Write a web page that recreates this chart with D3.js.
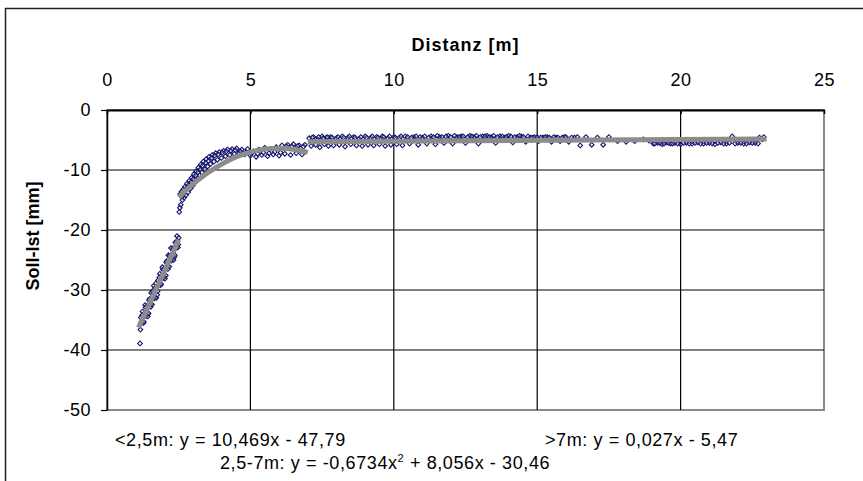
<!DOCTYPE html>
<html>
<head>
<meta charset="utf-8">
<script src="https://cdn.jsdelivr.net/npm/d3@7"></script>
<style>
  body { margin: 0; background: #fff; }
  text { font-family: Arial, "Liberation Sans", sans-serif; fill: #000; }
</style>
</head>
<body>
<div id="chart"></div>
<script>
const nearPoints = [
  [1.15,-38.9],[1.165,-36.6],[1.18,-34.6],[1.21,-35.5],[1.225,-34.2],[1.24,-33.6],[1.27,-35.5],
  [1.285,-35.3],[1.30,-33.9],[1.33,-32.5],[1.345,-32.9],[1.36,-34.3],[1.39,-32.7],[1.405,-33.9],
  [1.42,-34.4],[1.45,-33.9],[1.465,-31.7],[1.48,-31.5],[1.51,-32.4],[1.525,-32.8],[1.54,-30.5],
  [1.57,-32.4],[1.585,-30.2],[1.60,-30.7],[1.63,-29.3],[1.645,-31.4],[1.66,-31.1],[1.69,-29.6],
  [1.705,-28.9],[1.72,-31.3],[1.75,-30.8],[1.765,-30.2],[1.78,-28.4],[1.81,-29.2],[1.825,-27.9],
  [1.84,-27.3],[1.87,-29.2],[1.885,-29.0],[1.90,-27.6],[1.93,-26.2],[1.945,-26.6],[1.96,-28.0],
  [1.99,-26.5],[2.005,-27.8],[2.02,-28.1],[2.05,-27.6],[2.065,-25.4],[2.08,-25.2],[2.11,-26.1],
  [2.125,-26.5],[2.14,-24.2],[2.17,-26.1],[2.185,-24.3],[2.20,-24.5],[2.23,-23.0],[2.245,-25.1],
  [2.26,-24.8],[2.29,-23.3],[2.305,-23.0],[2.32,-25.0],[2.35,-24.5],[2.365,-24.2],[2.38,-22.1],
  [2.41,-23.0],[2.425,-21.9],[2.44,-21.0],[2.47,-22.9],[2.485,-22.4],[2.50,-21.3]
];
const midPoints = [
  [2.52,-17.0],[2.55,-14.0],[2.57,-15.8],[2.6,-13.6],[2.63,-15.0],[2.66,-13.2],[2.69,-14.6],
  [2.72,-12.8],[2.75,-14.2],[2.79,-12.3],[2.83,-13.7],[2.87,-11.8],[2.91,-13.1],[2.95,-11.3],
  [2.99,-12.6],[3.03,-10.7],[3.07,-12.0],[3.11,-10.2],[3.15,-11.4],[3.19,-9.6],[3.23,-10.9],
  [3.27,-9.1],[3.31,-10.4],[3.36,-8.6],[3.41,-9.9],[3.46,-8.2],[3.51,-9.4],[3.56,-7.8],
  [3.61,-9.0],[3.67,-7.5],[3.73,-8.6],[3.79,-7.2],[3.85,-8.3],[3.92,-7.0],[3.99,-8.0],
  [4.06,-6.8],[4.13,-7.7],[4.2,-6.6],[4.28,-7.5],[4.36,-6.5],[4.44,-7.3],[4.52,-6.4],
  [4.6,-7.2],[4.7,-6.6],[4.8,-7.4],[4.9,-6.5],[5.0,-7.6],[5.1,-6.9],[5.2,-7.8],[5.3,-6.6],
  [5.4,-7.5],[5.5,-6.3],[5.6,-7.7],[5.7,-6.5],[5.8,-7.4],[5.9,-6.2],[6.0,-7.6],[6.1,-5.9],
  [6.2,-7.3],[6.3,-5.8],[6.4,-7.5],[6.5,-5.7],[6.6,-7.2],[6.7,-5.9],[6.8,-7.4],[6.9,-5.8],
  [2.54,-16.3],[2.62,-14.4],[2.68,-13.9],[2.77,-13.1],[2.85,-12.5],[2.93,-12.0],[3.01,-11.5],
  [3.09,-10.9],[3.17,-10.4],[3.25,-9.9],[3.33,-9.3],[3.44,-8.8],[3.53,-8.5],[3.64,-8.0],
  [3.76,-7.6],[3.88,-7.4],[4.02,-7.1],[4.16,-6.9],[4.32,-6.8],[4.48,-6.7],[4.65,-6.9],
  [4.85,-7.0],[5.05,-7.2],[5.25,-7.3],[5.45,-7.1],[5.65,-7.2],[5.85,-7.0],[6.05,-7.1],
  [6.25,-6.0],[6.45,-6.1],[6.65,-6.0],[6.85,-6.1]
];
const farPoints = [
  [7.05,-4.7],[7.12,-6.0],[7.2,-4.5],[7.28,-5.8],[7.35,-4.9],[7.42,-6.2],[7.5,-4.4],[7.58,-5.7],
  [7.65,-4.6],[7.72,-6.0],[7.8,-4.5],[7.9,-5.9],[8.0,-4.7],[8.1,-5.8],[8.2,-4.4],[8.3,-6.1],
  [8.4,-4.6],[8.5,-5.7],[8.6,-4.5],[8.7,-5.9],[8.8,-4.8],[8.9,-6.0],[9.0,-4.4],[9.1,-5.8],
  [9.2,-4.6],[9.3,-5.9],[9.4,-4.5],[9.5,-5.7],[9.6,-4.4],[9.7,-6.0],[9.8,-4.7],[9.9,-5.8],
  [10.0,-4.5],[10.1,-5.7],[10.2,-4.6],[10.3,-5.9],[10.4,-4.4],[10.55,-5.6],[10.7,-4.5],[10.85,-5.8],
  [11.0,-4.6],[11.15,-5.6],[11.3,-4.4],[11.45,-5.7],[11.6,-4.5],[11.75,-5.5],[11.9,-4.3],[12.05,-5.6],
  [12.2,-4.5],[12.35,-4.4],[12.5,-5.5],[12.65,-4.3],[12.8,-4.5],[12.95,-5.6],[13.1,-4.4],[13.25,-4.3],
  [13.4,-4.5],[13.55,-5.5],[13.7,-4.4],[13.85,-4.6],[14.0,-4.3],[14.15,-5.4],[14.3,-4.5],[14.45,-4.4],
  [14.6,-5.3],[14.75,-4.6],[14.9,-4.5],[15.05,-5.2],[15.2,-4.6],[15.35,-4.5],[15.5,-5.3],[15.65,-4.6],
  [15.8,-5.2],[15.95,-4.5],[16.1,-5.3],[16.3,-4.6],[16.5,-5.9],[16.7,-4.5],[16.9,-5.8],[17.1,-4.6],
  [17.3,-5.8],[17.5,-4.5],[17.8,-5.2],[18.1,-5.3],[18.4,-5.2],[18.7,-4.9],[18.9,-5.1],[19.05,-5.6],
  [19.2,-5.5],[19.35,-5.7],[19.5,-5.4],[19.65,-5.6],[19.8,-5.5],[20.0,-5.7],[20.2,-5.5],[20.4,-5.6],
  [20.6,-5.4],[20.8,-5.6],[21.0,-5.5],[21.2,-5.7],[21.4,-5.4],[21.6,-5.6],[21.8,-4.4],[22.0,-5.5],
  [22.2,-5.6],[22.4,-5.4],[22.6,-5.5],[22.75,-4.6],[22.85,-4.9],[22.9,-4.5],
  [7.16,-4.6],[7.38,-4.5],[7.54,-4.7],[7.69,-4.5],[7.85,-4.6],[8.05,-4.5],[8.25,-4.6],[8.45,-4.4],
  [8.65,-4.6],[8.85,-4.5],[9.05,-4.6],[9.25,-4.4],[9.45,-4.6],[9.65,-4.5],[9.85,-4.4],[10.05,-4.6],
  [10.25,-4.4],[10.48,-4.5],[10.62,-4.6],[10.78,-4.4],[10.92,-4.5],[11.08,-4.4],[11.22,-4.6],[11.38,-4.5],
  [11.52,-4.3],[11.68,-4.5],[11.82,-4.4],[11.98,-4.5],[12.12,-4.3],[12.28,-4.5],[12.42,-4.4],[12.58,-4.5],
  [12.72,-4.4],[12.88,-4.3],[13.02,-4.5],[13.18,-4.4],[13.32,-4.5],[13.48,-4.3],[13.62,-4.5],[13.78,-4.4],
  [13.92,-4.5],[14.08,-4.4],[14.22,-4.5],[14.38,-4.3],[14.52,-4.5],[14.68,-4.4],[14.82,-4.6],[15.0,-4.5],
  [15.12,-4.6],[15.28,-4.5],[15.42,-4.6],[15.58,-4.5],[15.72,-4.6],[15.88,-4.6],[16.0,-4.5],[16.2,-4.6],
  [16.4,-4.5],
  [19.1,-5.6],[19.28,-5.5],[19.42,-5.6],[19.58,-5.5],[19.72,-5.6],[19.9,-5.6],[20.1,-5.5],[20.3,-5.6],
  [20.5,-5.5],[20.7,-5.6],[20.9,-5.5],[21.1,-5.6],[21.3,-5.5],[21.5,-5.6],[21.7,-5.5],[21.9,-5.6],
  [22.1,-5.5],[22.3,-5.6],[22.5,-5.5],[22.7,-5.6]
];

// trend lines as drawn in the chart
const trendNear = [[1.1,-36.27],[2.5,-21.62]];
const trendMid = [[2.5,-14.53],[2.75,-13.40],[3,-12.35],[3.25,-11.39],[3.5,-10.51],[3.75,-9.72],
  [4,-9.01],[4.5,-7.84],[5,-7.02],[5.5,-6.52],[6,-6.37],[6.5,-6.55],[7,-7.07]];
const trendFar = [[7,-5.28],[23,-4.85]];

const xTicks = [0, 5, 10, 15, 20, 25];
const yTicks = [0, -10, -20, -30, -40, -50];
const xTitle = "Distanz [m]";
const yTitle = "Soll-Ist [mm]";

const width = 863, height = 481;
const plotLeft = 107, plotRight = 824, plotTop = 110, plotBottom = 410;

const svg = d3.select("#chart").append("svg")
  .attr("width", width)
  .attr("height", height);

// outer chart frame (only left/top edges are inside the picture)
svg.append("rect")
  .attr("x", 5.5).attr("y", 8.5)
  .attr("width", width + 20).attr("height", height + 20)
  .attr("fill", "none").attr("stroke", "#222").attr("stroke-width", 1.5);

const x = d3.scaleLinear().domain([0, 25]).range([plotLeft, plotRight]);
const y = d3.scaleLinear().domain([0, -50]).range([plotTop, plotBottom]);

// plot area border
svg.append("rect")
  .attr("x", plotLeft).attr("y", plotTop)
  .attr("width", plotRight - plotLeft).attr("height", plotBottom - plotTop)
  .attr("fill", "none").attr("stroke", "#8a8a8a").attr("stroke-width", 2);

// gridlines
svg.append("g").selectAll("line").data(xTicks.slice(1, -1)).join("line")
  .attr("x1", d => x(d)).attr("x2", d => x(d))
  .attr("y1", plotTop).attr("y2", plotBottom)
  .attr("stroke", "#000").attr("stroke-width", 1.2);
svg.append("g").selectAll("line").data(yTicks.slice(1, -1)).join("line")
  .attr("x1", plotLeft).attr("x2", plotRight)
  .attr("y1", d => y(d)).attr("y2", d => y(d))
  .attr("stroke", "#000").attr("stroke-width", 1.2);

// x axis on top, ticks pointing inside
const xAxis = d3.axisTop(x).tickValues(xTicks).tickFormat(d => String(d))
  .tickSizeInner(-4).tickSizeOuter(0).tickPadding(24);
const gx = svg.append("g").attr("transform", `translate(0,${plotTop})`).call(xAxis);
gx.select(".domain").attr("stroke", "#000").attr("stroke-width", 2);
gx.selectAll(".tick line").attr("stroke", "#000").attr("stroke-width", 1.5);
gx.selectAll(".tick text").attr("font-size", 18).attr("letter-spacing", 0.5)
  .attr("font-family", "Arial, 'Liberation Sans'");

// y axis, plain hyphen for the minus like the original
const yAxis = d3.axisLeft(y).tickValues(yTicks).tickFormat(d => String(d))
  .tickSizeInner(6).tickSizeOuter(0).tickPadding(10);
const gy = svg.append("g").attr("transform", `translate(${plotLeft},0)`).call(yAxis);
gy.select(".domain").attr("stroke", "#000").attr("stroke-width", 1.5);
gy.selectAll(".tick line").attr("stroke", "#000").attr("stroke-width", 1.2);
gy.selectAll(".tick text").attr("font-size", 18).attr("letter-spacing", 0.5)
  .attr("font-family", "Arial, 'Liberation Sans'");

// scatter markers (hollow diamonds)
const marker = d3.symbol().type(d3.symbolSquare).size(11);
const allPoints = nearPoints.concat(midPoints, farPoints);
svg.append("g").selectAll("path").data(allPoints).join("path")
  .attr("d", marker)
  .attr("transform", d => `translate(${x(d[0])},${y(d[1])}) rotate(45)`)
  .attr("fill", "#fff")
  .attr("fill-opacity", 0.3)
  .attr("stroke", "#14146e")
  .attr("stroke-width", 1.1);

// trend lines
const line = d3.line().x(d => x(d[0])).y(d => y(d[1])).curve(d3.curveMonotoneX);
svg.append("g").selectAll("path").data([trendNear, trendMid, trendFar]).join("path")
  .attr("d", line)
  .attr("fill", "none")
  .attr("stroke", "#8c8c8c")
  .attr("stroke-width", 5);

// axis titles
svg.append("text")
  .attr("x", (plotLeft + plotRight) / 2).attr("y", 51)
  .attr("text-anchor", "middle")
  .attr("font-size", 18).attr("font-weight", "bold").attr("letter-spacing", 1)
  .text(xTitle);
svg.append("text")
  .attr("transform", "translate(39,236) rotate(-90)")
  .attr("text-anchor", "middle")
  .attr("font-size", 18).attr("font-weight", "bold")
  .text(yTitle);

// trend line equations
const eqStyle = sel => sel.attr("font-size", 18).attr("letter-spacing", 0.6);
svg.append("text").attr("x", 115).attr("y", 446).call(eqStyle)
  .text("<2,5m: y = 10,469x - 47,79");
const eq2 = svg.append("text").attr("x", 220).attr("y", 469).call(eqStyle);
eq2.append("tspan").text("2,5-7m: y = -0,6734x");
eq2.append("tspan").attr("dy", -7).attr("font-size", 11).text("2");
eq2.append("tspan").attr("dy", 7).text(" + 8,056x - 30,46");
svg.append("text").attr("x", 545).attr("y", 446).call(eqStyle)
  .text(">7m: y = 0,027x - 5,47");
</script>
</body>
</html>
